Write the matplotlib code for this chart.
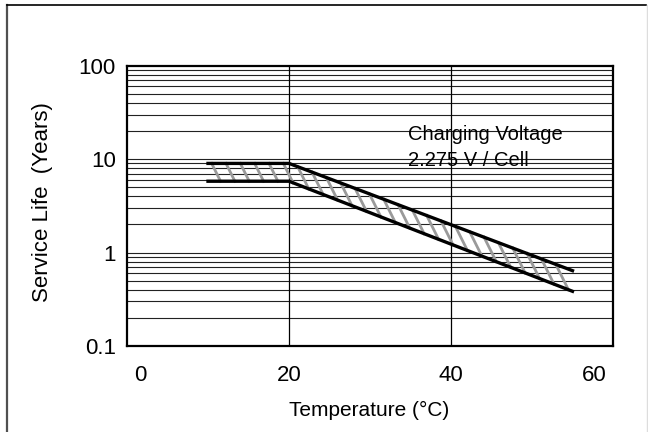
import numpy as np
import matplotlib
matplotlib.use("Agg")
import matplotlib.pyplot as plt
from matplotlib.transforms import ScaledTranslation
from matplotlib.lines import Line2D

plt.rcParams['font.family'] = ['Liberation Sans', 'DejaVu Sans']

# data
temp = [10, 20, 55]
life_upper = [9.0, 9.0, 0.64]
life_lower = [5.8, 5.8, 0.385]

xticks = [0, 20, 40, 60]
xtick_labels = ['0', '20', '40', '60']
yticks = [0.1, 1, 10, 100]
ytick_labels = ['0.1', '1', '10', '100']

note = ['Charging Voltage', '2.275 V / Cell']

fig = plt.figure(figsize=(6.48, 4.32), dpi=100)
ax = fig.add_axes([127/648, 1 - 346/432, 486/648, 280.3/432])
ax.set_yscale('log')
ax.set_xlim(0, 60)
ax.set_ylim(0.1, 100)

# grid
for dec in [0.1, 1, 10]:
    for m in range(1, 10):
        ax.axhline(dec*m, color='#222222', lw=0.8, zorder=1)
for xv in [20, 40]:
    ax.axvline(xv, color='black', lw=0.9, zorder=1)

# hatch between the two curves, drawn in display space
def log_interp(x, xs, ys):
    return 10 ** np.interp(x, xs, np.log10(ys))

lx = np.linspace(temp[0], temp[-1], 600)
low_disp = ax.transData.transform(np.column_stack([lx, log_interp(lx, temp, life_lower)]))
inv = ax.transData.inverted()
ratio = 0.5
for x0 in np.arange(10.45, 54.5, 1.77):
    p = ax.transData.transform((x0, log_interp(x0, temp, life_upper)))
    t = np.linspace(0, 60, 1200)
    px = p[0] + ratio*t
    py = p[1] - t
    ly = np.interp(px, low_disp[:, 0], low_disp[:, 1])
    hit = np.argmax(py <= ly)
    q = (px[hit], py[hit])
    if q[0] > low_disp[-1, 0]:
        q = tuple(low_disp[-1])
    a = inv.transform(p)
    b = inv.transform(q)
    ax.plot([a[0], b[0]], [a[1], b[1]], color='#9a9a9a', lw=2.0, zorder=2)

ax.plot(temp, life_upper, color='black', lw=2.4, zorder=3)
ax.plot(temp, life_lower, color='black', lw=2.4, zorder=3)

ax.text(34.7, 18.4, note[0], fontsize=14.5, ha='left', va='center', zorder=4)
ax.text(34.7, 9.7, note[1], fontsize=14.5, ha='left', va='center', zorder=4)

ax.set_xticks(xticks)
ax.set_xticklabels(xtick_labels, fontsize=16)
ax.set_yticks(yticks)
ax.set_yticklabels(ytick_labels, fontsize=16)
ax.yaxis.set_minor_locator(matplotlib.ticker.NullLocator())
ax.tick_params(axis='x', length=0, pad=13.5)
ax.tick_params(axis='y', length=0, pad=8)

shifts = [13, 0, 0, -19]
for lab, dx in zip(ax.get_xticklabels(), shifts):
    lab.set_transform(lab.get_transform() + ScaledTranslation(dx/fig.dpi, 0, fig.dpi_scale_trans))

ax.set_xlabel('Temperature (°C)', fontsize=15, va='center')
ax.xaxis.set_label_coords(0.4975, -0.230)
ax.set_ylabel('Service Life  (Years)', fontsize=16, va='center')
ax.yaxis.set_label_coords(-0.173, 0.515)

for sp in ax.spines.values():
    sp.set_linewidth(1.6)
    sp.set_zorder(5)

# outer frame
fig.add_artist(Line2D([6.5/648, 6.5/648], [0, 1 - 5/432], color='#505050', lw=1.6))
fig.add_artist(Line2D([6.5/648, 646/648], [1 - 5/432, 1 - 5/432], color='black', lw=1.2))
fig.add_artist(Line2D([646.5/648, 646.5/648], [0, 1 - 5/432], color='#dddddd', lw=1.0))

fig.savefig('out.png', dpi=100)
